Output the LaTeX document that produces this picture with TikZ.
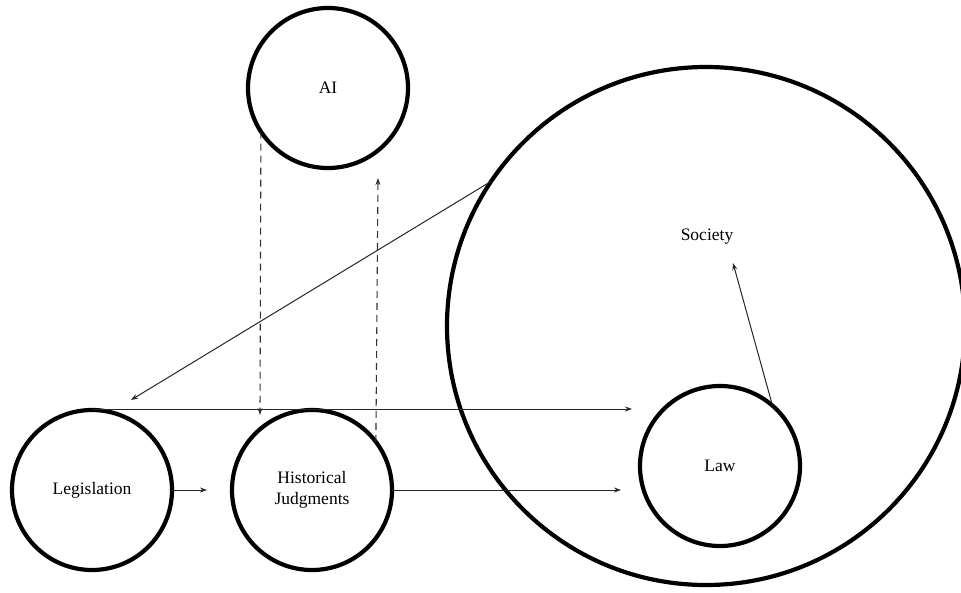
\documentclass[tikz,border=0pt]{standalone}
\usepackage{fontspec}
\setmainfont{Liberation Serif}
\usetikzlibrary{arrows.meta}
\begin{document}
\begin{tikzpicture}[x=1pt,y=-1pt,
  ring/.style={circle,draw=black,line width=4.2pt,inner sep=0pt,outer sep=0pt,minimum size=160pt,align=center,font=\fontsize{17.5}{21}\selectfont},
  bigring/.style={ring,minimum size=518pt},
  lbl/.style={font=\fontsize{17.5}{21}\selectfont,inner sep=0pt},
  conn/.style={line width=1pt,draw=black!85,-{Stealth[length=7pt,width=5pt]}},
  dconn/.style={conn,draw=black!80,line width=1.1pt,dash pattern=on 7pt off 5pt}]
\useasboundingbox (0,0) rectangle (961,592);
\node[bigring] (soc) at (706,326) {};
\node[lbl] (socl) at (707,237) {Society};
\node[ring] (ai) at (328,88) {AI};
\node[ring] (leg) at (92,490) {Legislation};
\node[ring] (hj) at (312,490) {Historical\\Judgments};
\node[ring] (law) at (720,466) {Law};
\coordinate (t1) at (207,490);
\coordinate (t2) at (621,490);
\coordinate (t3) at (632,409);
\coordinate (t4) at (131,400);
\coordinate (t5) at (260,415);
\coordinate (t6) at (378,178);
\coordinate (t7) at (733,263);
\coordinate (s3) at (92,409);
\draw[conn] (leg.east) -- (t1);
\draw[conn] (hj.east) -- (t2);
\draw[conn] (s3) -- (t3);
\draw[conn] (soc.146) -- (t4);
\draw[dconn] (ai.213) -- (t5);
\draw[dconn] (hj.37) -- (t6);
\draw[conn] (law.49) -- (t7);
\end{tikzpicture}
\end{document}
